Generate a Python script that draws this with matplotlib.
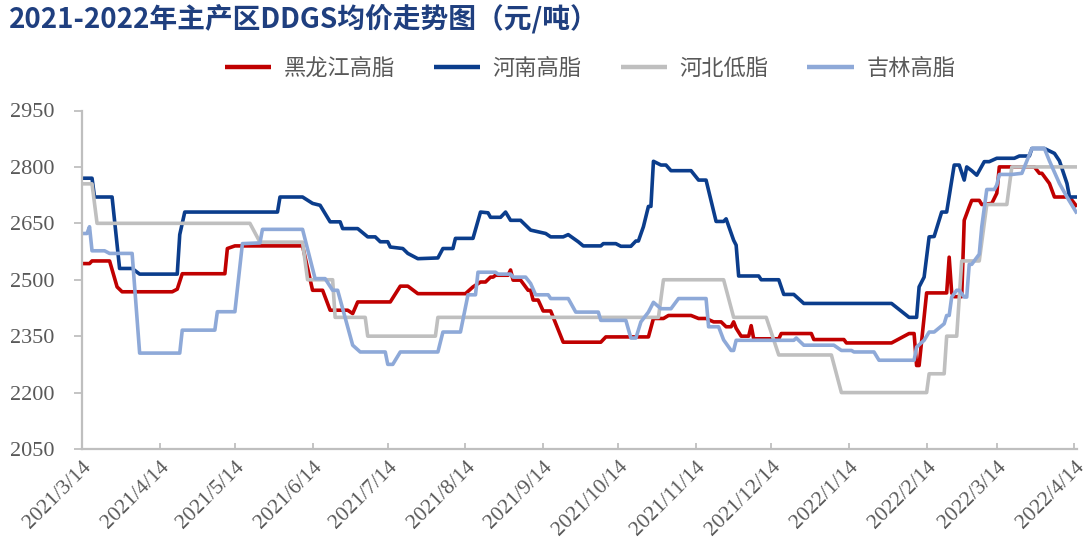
import matplotlib
matplotlib.use("Agg")
import matplotlib.pyplot as plt
import pandas as pd
from matplotlib.font_manager import FontProperties

title = "2021-2022年主产区DDGS均价走势图（元/吨）"
series_names = ["黑龙江高脂", "河南高脂", "河北低脂", "吉林高脂"]
colors = ["#C00000", "#0B3D8C", "#BFBFBF", "#8EA9D8"]

# 黑龙江高脂
hlj_dates = ["2021-03-14", "2021-03-17", "2021-03-18", "2021-03-25", "2021-03-28", "2021-03-30",
             "2021-04-19", "2021-04-21", "2021-04-23", "2021-05-10", "2021-05-11", "2021-05-14",
             "2021-06-10", "2021-06-14", "2021-06-18", "2021-06-21", "2021-06-28", "2021-06-30",
             "2021-07-02", "2021-07-15", "2021-07-19", "2021-07-22", "2021-07-26", "2021-08-14",
             "2021-08-17", "2021-08-20", "2021-08-22", "2021-08-24", "2021-08-25", "2021-08-26",
             "2021-08-31", "2021-09-01", "2021-09-02", "2021-09-05", "2021-09-08", "2021-09-09",
             "2021-09-10", "2021-09-12", "2021-09-14", "2021-09-17", "2021-09-22", "2021-10-07",
             "2021-10-09", "2021-10-26", "2021-10-28", "2021-11-01", "2021-11-03", "2021-11-12",
             "2021-11-15", "2021-11-18", "2021-11-21", "2021-11-24", "2021-11-26", "2021-11-28",
             "2021-11-29", "2021-11-30", "2021-12-02", "2021-12-05", "2021-12-06", "2021-12-07",
             "2021-12-17", "2021-12-18", "2021-12-30", "2021-12-31", "2022-01-12", "2022-01-13",
             "2022-01-31", "2022-02-07", "2022-02-09", "2022-02-10", "2022-02-11", "2022-02-14",
             "2022-02-22", "2022-02-23", "2022-02-24", "2022-02-25", "2022-02-28", "2022-03-01",
             "2022-03-03", "2022-03-04", "2022-03-07", "2022-03-08", "2022-03-12", "2022-03-14",
             "2022-03-15", "2022-03-29", "2022-03-31", "2022-04-01", "2022-04-04", "2022-04-06",
             "2022-04-12", "2022-04-15"]
hlj_values = [2543, 2543, 2550, 2550, 2481, 2468,
              2468, 2475, 2516, 2516, 2583, 2590,
              2590, 2472, 2472, 2419, 2419, 2410,
              2441, 2441, 2483, 2483, 2463, 2463,
              2481, 2494, 2494, 2507, 2507, 2512,
              2512, 2526, 2499, 2499, 2472, 2472,
              2446, 2446, 2417, 2417, 2334, 2334,
              2348, 2348, 2397, 2397, 2405, 2405,
              2397, 2397, 2388, 2388, 2375, 2375,
              2388, 2371, 2350, 2350, 2378, 2343,
              2343, 2357, 2357, 2341, 2341, 2332,
              2332, 2357, 2357, 2272, 2272, 2465,
              2465, 2560, 2465, 2455, 2455, 2658,
              2694, 2711, 2711, 2700, 2703, 2730,
              2800, 2800, 2783, 2783, 2756, 2720,
              2720, 2694]

# 河南高脂
hn_dates = ["2021-03-14", "2021-03-18", "2021-03-19", "2021-03-26", "2021-03-29", "2021-04-03",
            "2021-04-06", "2021-04-21", "2021-04-22", "2021-04-24", "2021-05-31", "2021-06-01",
            "2021-06-10", "2021-06-14", "2021-06-17", "2021-06-21", "2021-06-25", "2021-06-26",
            "2021-07-02", "2021-07-06", "2021-07-09", "2021-07-11", "2021-07-14", "2021-07-15",
            "2021-07-20", "2021-07-22", "2021-07-26", "2021-08-03", "2021-08-05", "2021-08-09",
            "2021-08-10", "2021-08-17", "2021-08-20", "2021-08-23", "2021-08-24", "2021-08-28",
            "2021-08-30", "2021-09-01", "2021-09-05", "2021-09-09", "2021-09-15", "2021-09-17",
            "2021-09-22", "2021-09-24", "2021-09-28", "2021-09-30", "2021-10-07", "2021-10-08",
            "2021-10-13", "2021-10-15", "2021-10-19", "2021-10-21", "2021-10-22", "2021-10-24",
            "2021-10-26", "2021-10-27", "2021-10-28", "2021-10-31", "2021-11-02", "2021-11-04",
            "2021-11-12", "2021-11-15", "2021-11-18", "2021-11-22", "2021-11-25", "2021-11-26",
            "2021-11-29", "2021-11-30", "2021-12-01", "2021-12-09", "2021-12-10", "2021-12-17",
            "2021-12-19", "2021-12-23", "2021-12-27", "2022-01-31", "2022-02-07", "2022-02-10",
            "2022-02-11", "2022-02-13", "2022-02-15", "2022-02-17", "2022-02-20", "2022-02-22",
            "2022-02-25", "2022-02-27", "2022-03-01", "2022-03-02", "2022-03-04", "2022-03-06",
            "2022-03-09", "2022-03-11", "2022-03-14", "2022-03-21", "2022-03-23", "2022-03-27",
            "2022-03-28", "2022-04-02", "2022-04-06", "2022-04-08", "2022-04-11", "2022-04-12",
            "2022-04-15"]
hn_values = [2770, 2770, 2720, 2720, 2530, 2530,
             2515, 2515, 2620, 2680, 2680, 2720,
             2720, 2703, 2698, 2654, 2654, 2636,
             2636, 2614, 2614, 2601, 2601, 2587,
             2583, 2570, 2556, 2558, 2583, 2583,
             2610, 2610, 2680, 2678, 2666, 2666,
             2680, 2658, 2658, 2632, 2623, 2614,
             2614, 2620, 2601, 2590, 2590, 2596,
             2596, 2589, 2589, 2603, 2603, 2641,
             2695, 2695, 2815, 2805, 2805, 2790,
             2790, 2765, 2765, 2655, 2655, 2662,
             2605, 2592, 2510, 2510, 2500, 2500,
             2461, 2461, 2437, 2437, 2400, 2400,
             2481, 2507, 2614, 2615, 2680, 2680,
             2805, 2805, 2765, 2800, 2790, 2778,
             2814, 2814, 2823, 2823, 2829, 2829,
             2849, 2849, 2836, 2816, 2756, 2720,
             2720]

# 河北低脂
hb_dates = ["2021-03-14", "2021-03-18", "2021-03-20", "2021-05-20", "2021-05-24", "2021-06-10",
            "2021-06-12", "2021-06-22", "2021-06-23", "2021-07-05", "2021-07-06", "2021-08-02",
            "2021-08-03", "2021-10-30", "2021-11-01", "2021-11-25", "2021-11-29", "2021-12-12",
            "2021-12-17", "2022-01-07", "2022-01-11", "2022-02-14", "2022-02-15", "2022-02-21",
            "2022-02-22", "2022-02-26", "2022-02-28", "2022-03-07", "2022-03-10", "2022-03-18",
            "2022-03-20", "2022-04-15"]
hb_values = [2755, 2755, 2650, 2650, 2600, 2600,
             2500, 2500, 2400, 2400, 2350, 2350,
             2400, 2400, 2500, 2500, 2400, 2400,
             2300, 2300, 2200, 2200, 2250, 2250,
             2350, 2350, 2550, 2550, 2700, 2700,
             2800, 2800]

# 吉林高脂
jl_dates = ["2021-03-14", "2021-03-16", "2021-03-17", "2021-03-18", "2021-03-23", "2021-03-25",
            "2021-04-03", "2021-04-06", "2021-04-22", "2021-04-23", "2021-05-06", "2021-05-07",
            "2021-05-14", "2021-05-17", "2021-05-24", "2021-05-25", "2021-06-10", "2021-06-15",
            "2021-06-19", "2021-06-22", "2021-06-24", "2021-06-30", "2021-07-03", "2021-07-13",
            "2021-07-14", "2021-07-16", "2021-07-19", "2021-08-03", "2021-08-05", "2021-08-12",
            "2021-08-15", "2021-08-18", "2021-08-19", "2021-08-26", "2021-08-27", "2021-09-01",
            "2021-09-02", "2021-09-07", "2021-09-09", "2021-09-11", "2021-09-16", "2021-09-17",
            "2021-09-24", "2021-09-27", "2021-10-06", "2021-10-07", "2021-10-17", "2021-10-19",
            "2021-10-21", "2021-10-23", "2021-10-26", "2021-10-28", "2021-10-31", "2021-11-04",
            "2021-11-07", "2021-11-18", "2021-11-19", "2021-11-23", "2021-11-25", "2021-11-28",
            "2021-11-29", "2021-11-30", "2021-12-23", "2021-12-24", "2021-12-27", "2022-01-08",
            "2022-01-11", "2022-01-15", "2022-01-16", "2022-01-24", "2022-01-26", "2022-02-09",
            "2022-02-10", "2022-02-13", "2022-02-15", "2022-02-17", "2022-02-21", "2022-02-22",
            "2022-02-23", "2022-02-24", "2022-02-26", "2022-02-27", "2022-03-01", "2022-03-02",
            "2022-03-03", "2022-03-04", "2022-03-07", "2022-03-08", "2022-03-10", "2022-03-13",
            "2022-03-14", "2022-03-15", "2022-03-20", "2022-03-24", "2022-03-28", "2022-04-02",
            "2022-04-04", "2022-04-08", "2022-04-11", "2022-04-15"]
jl_values = [2623, 2623, 2641, 2577, 2577, 2570,
             2570, 2305, 2305, 2366, 2366, 2415,
             2415, 2596, 2598, 2634, 2634, 2503,
             2503, 2472, 2472, 2326, 2308, 2308,
             2275, 2275, 2308, 2308, 2361, 2361,
             2460, 2460, 2520, 2520, 2515, 2515,
             2507, 2507, 2490, 2460, 2460, 2450,
             2450, 2414, 2414, 2392, 2392, 2345,
             2345, 2388, 2414, 2440, 2423, 2423,
             2450, 2450, 2375, 2375, 2340, 2312,
             2312, 2339, 2339, 2345, 2326, 2326,
             2312, 2312, 2308, 2308, 2286, 2286,
             2321, 2339, 2361, 2361, 2383, 2405,
             2405, 2454, 2472, 2472, 2454, 2454,
             2541, 2541, 2568, 2641, 2740, 2740,
             2752, 2780, 2780, 2783, 2849, 2849,
             2816, 2756, 2720, 2676]

tick_dates = ["2021-03-14", "2021-04-14", "2021-05-14", "2021-06-14", "2021-07-14", "2021-08-14",
              "2021-09-14", "2021-10-14", "2021-11-14", "2021-12-14", "2022-01-14", "2022-02-14",
              "2022-03-14", "2022-04-14"]
tick_labels = ["2021/3/14", "2021/4/14", "2021/5/14", "2021/6/14", "2021/7/14", "2021/8/14",
               "2021/9/14", "2021/10/14", "2021/11/14", "2021/12/14", "2022/1/14", "2022/2/14",
               "2022/3/14", "2022/4/14"]
y_ticks = [2050, 2200, 2350, 2500, 2650, 2800, 2950]

W, H = 1087, 556
fig = plt.figure(figsize=(W / 100, H / 100), dpi=100)
ax = fig.add_axes([82 / W, 1 - 449 / H, (1077 - 82) / W, (449 - 110.5) / H])

all_dates = [hlj_dates, hn_dates, hb_dates, jl_dates]
all_values = [hlj_values, hn_values, hb_values, jl_values]
lines = []
for d, v, name, c in zip(all_dates, all_values, series_names, colors):
    ln, = ax.plot(pd.to_datetime(d), v, color=c, lw=2.6, label=name,
                  solid_joinstyle="round", solid_capstyle="butt")
    lines.append(ln)

ax.set_ylim(2050, 2950)
ax.set_xlim(pd.Timestamp("2021-03-14"), pd.Timestamp("2022-04-15"))
ax.set_yticks(y_ticks)
ax.set_xticks(pd.to_datetime(tick_dates))
ax.set_xticklabels(tick_labels)

spine_c = "#BFBFBF"
for s in ["top", "right"]:
    ax.spines[s].set_visible(False)
for s in ["left", "bottom"]:
    ax.spines[s].set_color(spine_c)
    ax.spines[s].set_linewidth(1.6)

ylab_font = FontProperties(family="Liberation Serif", size=16)
xlab_font = FontProperties(family="Liberation Serif", size=15.5)
ax.tick_params(axis="y", direction="out", length=6, width=1.3, color=spine_c,
               pad=14, labelcolor="#595959")
ax.tick_params(axis="x", direction="in", length=4, width=1.3, color=spine_c,
               pad=6, labelcolor="#595959")
for lab in ax.get_yticklabels():
    lab.set_fontproperties(ylab_font)
for lab in ax.get_xticklabels():
    lab.set_fontproperties(xlab_font)
    lab.set_rotation(45)
    lab.set_ha("right")
    lab.set_va("top")
    lab.set_rotation_mode("anchor")

fig.text(9 / W, 1 - 19 / H, title, fontsize=20, fontweight="bold", color="#1F3F7F",
         family=["Noto Sans CJK SC", "DejaVu Sans"], va="center", ha="left")

leg = fig.legend(handles=lines, labels=series_names, loc="center",
                 bbox_to_anchor=(590 / W, 1 - 68 / H), ncol=4, frameon=False,
                 prop=FontProperties(family="Noto Sans CJK SC", size=16),
                 labelcolor="#595959", handlelength=2.1, handletextpad=0.55,
                 columnspacing=1.75)
for h in leg.legend_handles:
    h.set_linewidth(3.2)

fig.savefig("out.png", dpi=100)
